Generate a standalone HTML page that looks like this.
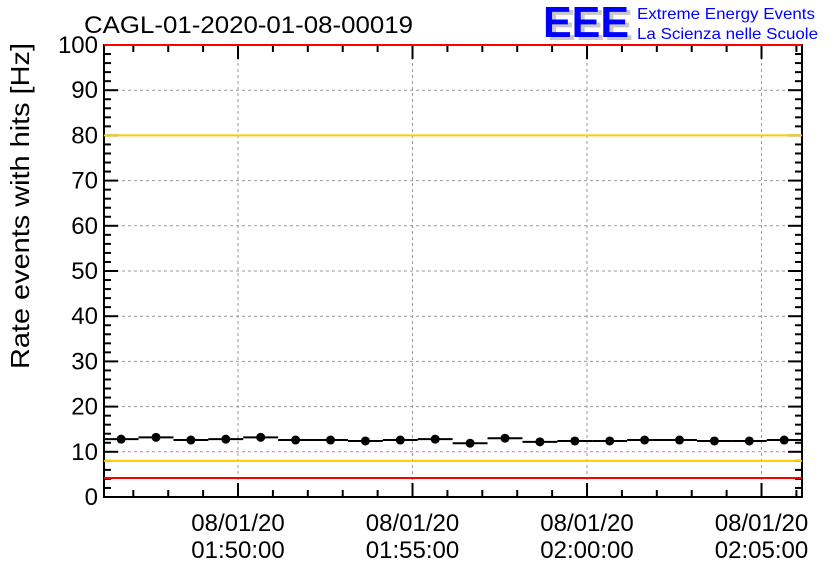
<!DOCTYPE html>
<html><head><meta charset="utf-8"><style>
body{margin:0;background:#fff;width:836px;height:572px;overflow:hidden}
svg{display:block;font-family:"Liberation Sans",sans-serif}
</style></head><body>
<svg id="chart" width="836" height="572">
<text x="84" y="33" font-size="24" textLength="329" lengthAdjust="spacingAndGlyphs">CAGL-01-2020-01-08-00019</text>
<g>
<text x="547" y="40" font-size="44" font-weight="bold" fill="#c8c8c8" textLength="86" lengthAdjust="spacingAndGlyphs">EEE</text>
<text x="543" y="37" font-size="44" font-weight="bold" fill="#0000ff" textLength="86" lengthAdjust="spacingAndGlyphs">EEE</text>
<text x="637" y="19" font-size="16" fill="#0000ff" textLength="178" lengthAdjust="spacingAndGlyphs">Extreme Energy Events</text>
<text x="637" y="39" font-size="16" fill="#0000ff" textLength="181" lengthAdjust="spacingAndGlyphs">La Scienza nelle Scuole</text>
</g>
<text transform="translate(29,206) rotate(-90)" text-anchor="middle" font-size="26" textLength="326" lengthAdjust="spacingAndGlyphs">Rate events with hits [Hz]</text>
<g id="plot"></g>
</svg>
<script>
const minutes = [-3.35,-2.35,-1.35,-0.35,0.65,1.65,2.65,3.65,4.65,5.65,6.65,7.65,8.65,9.65,10.65,11.65,12.65,13.65,14.65,15.65];
const rates = [12.8,13.2,12.6,12.8,13.2,12.6,12.6,12.4,12.6,12.8,11.9,13.0,12.2,12.4,12.4,12.6,12.6,12.4,12.4,12.6];
const yTicks = [0,10,20,30,40,50,60,70,80,90,100];
const xTickMinutes = [0,5,10,15];
const xTickLabels = ["01:50:00","01:55:00","02:00:00","02:05:00"];
const redLimits = [100,4.2];
const yellowLimits = [80,8];

const L=104,R=802,T=45,B=497,xMin=-3.84,xMax=16.16;
const X=m=>L+(m-xMin)/(xMax-xMin)*(R-L);
const Y=v=>B-v/100*(B-T);
const NS="http://www.w3.org/2000/svg";
const g=document.getElementById('plot');
function mk(t,a,p){const e=document.createElementNS(NS,t);for(const k in a)e.setAttribute(k,a[k]);(p||g).appendChild(e);return e;}

yTicks.slice(1,-1).forEach(v=>{
  const e=mk('line',{x1:L,x2:R,y1:Y(v),y2:Y(v),stroke:'#999','stroke-dasharray':'3,3','stroke-width':1});
  
  
});
xTickMinutes.forEach(m=>{
  const e=mk('line',{x1:X(m),x2:X(m),y1:T,y2:B,stroke:'#999','stroke-dasharray':'3,3','stroke-width':1});
  
  
});
const fr=mk('rect',{x:L,y:T,width:R-L,height:B-T,fill:'none',stroke:'#000','stroke-width':2});


for(let v=0;v<=100;v+=2){
  const len=v%10===0?14:7;
  mk('line',{x1:L,x2:L+len,y1:Y(v),y2:Y(v),stroke:'#000','stroke-width':2});
  mk('line',{x1:R,x2:R-len,y1:Y(v),y2:Y(v),stroke:'#000','stroke-width':2});
}
for(let m=-3;m<=16;m++){
  const len=m%5===0?14:7;
  mk('line',{x1:X(m),x2:X(m),y1:B,y2:B-len,stroke:'#000','stroke-width':2});
  mk('line',{x1:X(m),x2:X(m),y1:T,y2:T+len,stroke:'#000','stroke-width':2});
}
yellowLimits.forEach(v=>{
  const e=mk('line',{x1:L,x2:R,y1:Y(v),y2:Y(v),stroke:'#ffcc00','stroke-width':2});
  
  
});
redLimits.forEach(v=>{
  const e=mk('line',{x1:L,x2:R,y1:Y(v),y2:Y(v),stroke:'#ff0000','stroke-width':2});
  
  
});
yTicks.forEach(v=>{
  const t=mk('text',{x:L-6,y:Y(v)+8,'text-anchor':'end','font-size':24});
  t.textContent=v;
  
  
});
xTickMinutes.forEach((m,i)=>{
  const t1=mk('text',{x:X(m),y:531,'text-anchor':'middle','font-size':24});
  t1.textContent='08/01/20';
  
  
  const t2=mk('text',{x:X(m),y:558,'text-anchor':'middle','font-size':24});
  t2.textContent=xTickLabels[i];
  
  
});
minutes.forEach((m,i)=>{
  const h=mk('line',{x1:X(m-0.5),x2:X(m+0.5),y1:Y(rates[i]),y2:Y(rates[i]),stroke:'#000','stroke-width':2});
  
  
  const c=mk('circle',{cx:X(m),cy:Y(rates[i]),r:4.5,fill:'#000'});
  
  
});
</script>
</body></html>
